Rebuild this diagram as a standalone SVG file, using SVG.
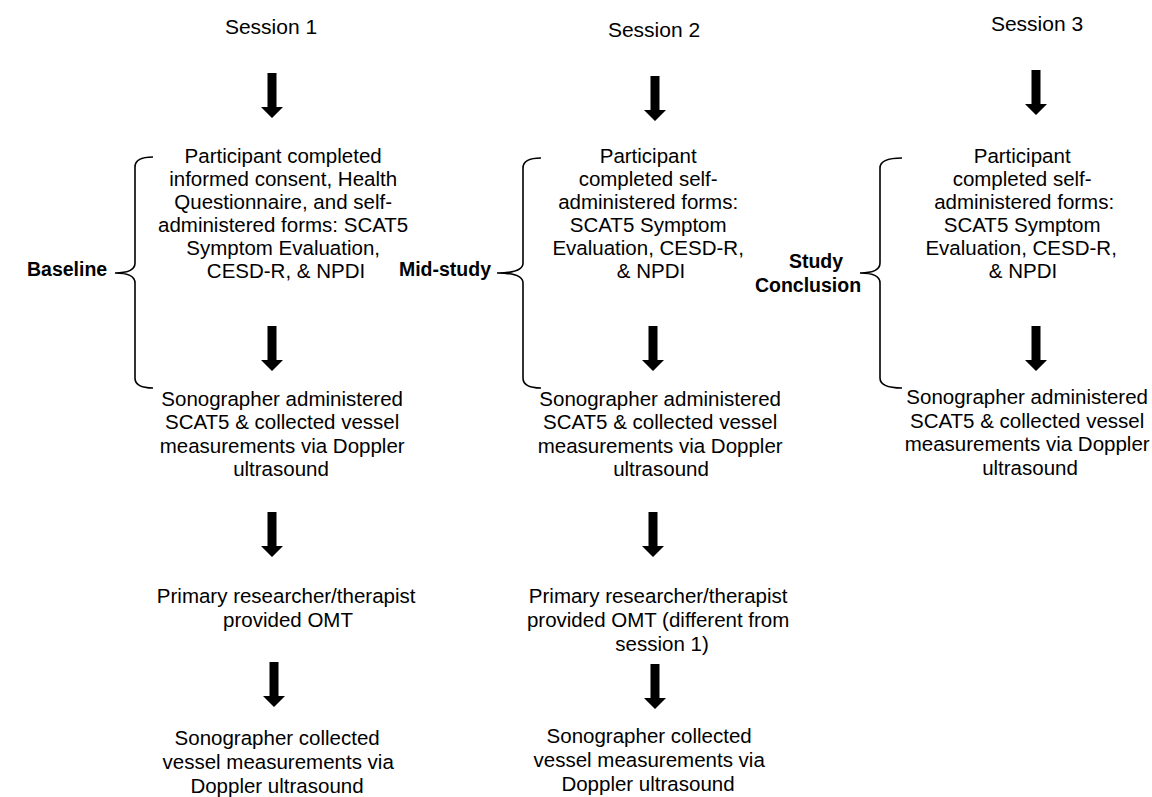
<svg xmlns="http://www.w3.org/2000/svg" width="1152" height="797" viewBox="0 0 1152 797">
<style>
.t{font-family:"Liberation Sans",Arial,sans-serif;font-size:20.5px;fill:#000;text-anchor:middle}
.h{font-family:"Liberation Sans",Arial,sans-serif;font-size:21px;fill:#000;text-anchor:middle}
.b{font-family:"Liberation Sans",Arial,sans-serif;font-size:19.5px;font-weight:bold;fill:#000}
.br{fill:none;stroke:#000;stroke-width:1.6}
</style>
<defs>
<path id="arr" d="M-4.5,0 H4.5 V34 H11 L0,45 L-11,34 H-4.5 Z" fill="#000"/>
</defs>
<rect width="1152" height="797" fill="#fff"/>

<g id="session1-title"><text class="h" x="271" y="34">Session 1</text></g>
<g id="session2-title"><text class="h" x="654" y="37">Session 2</text></g>
<g id="session3-title"><text class="h" x="1037" y="31">Session 3</text></g>

<g id="label-baseline"><text class="b" x="27" y="276">Baseline</text></g>
<g id="label-midstudy"><text class="b" x="491" y="276" text-anchor="end">Mid-study</text></g>
<g id="label-conclusion"><text class="b" x="816" y="268" text-anchor="middle">Study</text><text class="b" x="808" y="292" text-anchor="middle">Conclusion</text></g>

<g id="s1-forms"><text class="t">
<tspan x="286" y="163">Participant completed</tspan>
<tspan x="286" y="186">informed consent, Health</tspan>
<tspan x="286" y="209">Questionnaire, and self-</tspan>
<tspan x="286" y="232">administered forms: SCAT5</tspan>
<tspan x="286" y="255">Symptom Evaluation,</tspan>
<tspan x="286" y="278">CESD-R, &amp; NPDI</tspan></text></g>
<g id="s1-sono"><text class="t">
<tspan x="285" y="405.5">Sonographer administered</tspan>
<tspan x="285" y="429">SCAT5 &amp; collected vessel</tspan>
<tspan x="285" y="452.5">measurements via Doppler</tspan>
<tspan x="281" y="476">ultrasound</tspan></text></g>
<g id="s1-omt"><text class="t">
<tspan x="289" y="603">Primary researcher/therapist</tspan>
<tspan x="288" y="627">provided OMT</tspan></text></g>
<g id="s1-collect"><text class="t">
<tspan x="280" y="744.5">Sonographer collected</tspan>
<tspan x="281" y="768.5">vessel measurements via</tspan>
<tspan x="277" y="792.5">Doppler ultrasound</tspan></text></g>

<g id="s2-forms"><text class="t">
<tspan x="651" y="163">Participant</tspan>
<tspan x="651" y="186">completed self-</tspan>
<tspan x="651" y="209">administered forms:</tspan>
<tspan x="651" y="232">SCAT5 Symptom</tspan>
<tspan x="651" y="255">Evaluation, CESD-R,</tspan>
<tspan x="651" y="278">&amp; NPDI</tspan></text></g>
<g id="s2-sono"><text class="t">
<tspan x="663" y="405.5">Sonographer administered</tspan>
<tspan x="663" y="429">SCAT5 &amp; collected vessel</tspan>
<tspan x="663" y="452.5">measurements via Doppler</tspan>
<tspan x="661" y="476">ultrasound</tspan></text></g>
<g id="s2-omt"><text class="t">
<tspan x="661" y="603">Primary researcher/therapist</tspan>
<tspan x="661" y="627">provided OMT (different from</tspan>
<tspan x="662" y="651">session 1)</tspan></text></g>
<g id="s2-collect"><text class="t">
<tspan x="652" y="742.5">Sonographer collected</tspan>
<tspan x="652" y="766.5">vessel measurements via</tspan>
<tspan x="648" y="790.5">Doppler ultrasound</tspan></text></g>

<g id="s3-forms"><text class="t">
<tspan x="1025" y="163">Participant</tspan>
<tspan x="1025" y="186">completed self-</tspan>
<tspan x="1027" y="209">administered forms:</tspan>
<tspan x="1025" y="232">SCAT5 Symptom</tspan>
<tspan x="1024" y="255">Evaluation, CESD-R,</tspan>
<tspan x="1023" y="278">&amp; NPDI</tspan></text></g>
<g id="s3-sono"><text class="t">
<tspan x="1030" y="404">Sonographer administered</tspan>
<tspan x="1030" y="427.5">SCAT5 &amp; collected vessel</tspan>
<tspan x="1030" y="451">measurements via Doppler</tspan>
<tspan x="1030" y="474.5">ultrasound</tspan></text></g>

<g id="braces">
<path class="br" d="M153,157 Q135,157 135,167 V263 Q135,273 115,273 Q135,273 135,283 V378 Q135,388 153,388"/>
<path class="br" d="M541,158 Q523,158 523,168 V263 Q523,273 497,273 Q523,273 523,283 V378 Q523,388 541,388"/>
<path class="br" d="M902,158 Q880,158 880,168 V263 Q880,273 860,273 Q880,273 880,283 V378 Q880,388 902,388"/>
</g>

<g id="connectors">
<use href="#arr" transform="translate(272,73)"/>
<use href="#arr" transform="translate(272,326)"/>
<use href="#arr" transform="translate(272,512)"/>
<use href="#arr" transform="translate(274,662)"/>
<use href="#arr" transform="translate(655,76)"/>
<use href="#arr" transform="translate(653,326)"/>
<use href="#arr" transform="translate(653,512)"/>
<use href="#arr" transform="translate(655,664)"/>
<use href="#arr" transform="translate(1036,70)"/>
<use href="#arr" transform="translate(1036,326)"/>
</g>
</svg>
